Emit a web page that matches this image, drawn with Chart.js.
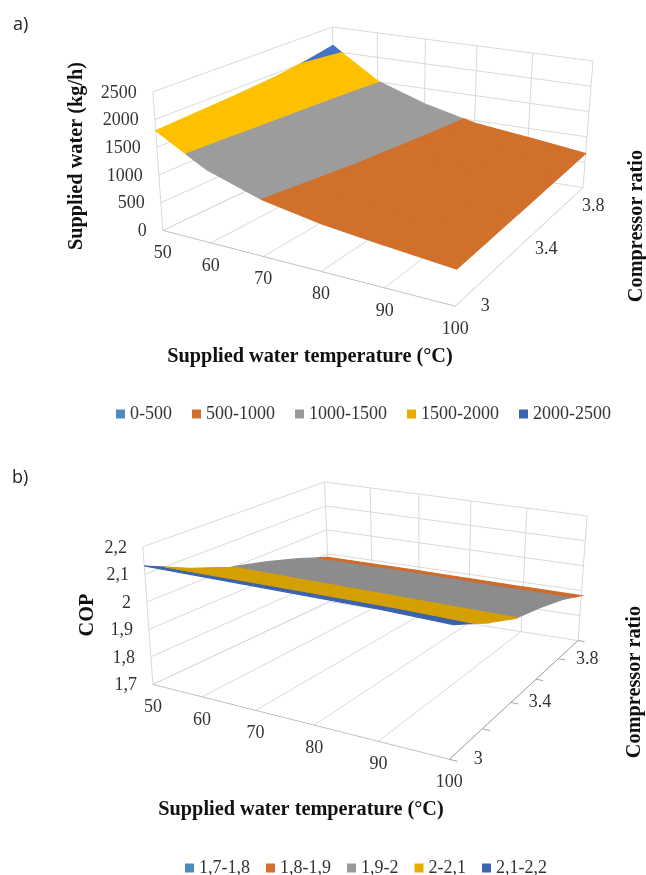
<!DOCTYPE html>
<html><head><meta charset="utf-8">
<script src="https://cdn.jsdelivr.net/npm/chart.js@4"></script>
<style>html,body{margin:0;padding:0;background:#fff;overflow:hidden;height:875px}canvas{position:absolute;left:0}</style>
</head><body>
<canvas id="a" style="top:0"></canvas>
<canvas id="b" style="top:437px"></canvas>
<script>
// ---------- shared categories ----------
const temperatures = [50, 60, 70, 80, 90, 100];
const ratios = [3, 3.2, 3.4, 3.6, 3.8, 4];
const ratioLabels = ['3', '', '3.4', '', '3.8', ''];

// ---------- panel a ----------
const waterTicks = [0, 500, 1000, 1500, 2000, 2500];
const waterTickLabels = ['0', '500', '1000', '1500', '2000', '2500'];
const waterBands = ['0-500', '500-1000', '1000-1500', '1500-2000', '2000-2500'];
const waterAt30 = [1800, 1300, 1000, 830, 720, 620];
const waterAt32 = [1840, 1340, 1035, 855, 740, 630];
const waterAt34 = [1880, 1385, 1075, 880, 760, 640];
const waterAt36 = [1930, 1425, 1110, 900, 775, 650];
const waterAt38 = [2010, 1470, 1150, 925, 800, 660];
const waterAt40 = [2120, 1520, 1190, 950, 820, 670];

// ---------- panel b ----------
const copTicks = [1.7, 1.8, 1.9, 2, 2.1, 2.2];
const copTickLabels = ['1,7', '1,8', '1,9', '2', '2,1', '2,2'];
const copBands = ['1,7-1,8', '1,8-1,9', '1,9-2', '2-2,1', '2,1-2,2'];
const copAt30 = [2.13, 2.135, 2.14, 2.145, 2.15, 2.15];
const copAt32 = [2.06, 2.062, 2.065, 2.068, 2.07, 2.07];
const copAt34 = [2.005, 2.005, 2.005, 2.005, 2.005, 2.005];
const copAt36 = [1.97, 1.97, 1.97, 1.97, 1.97, 1.97];
const copAt38 = [1.93, 1.93, 1.93, 1.93, 1.93, 1.93];
const copAt40 = [1.885, 1.885, 1.885, 1.883, 1.881, 1.88];

const SERIF = '"Liberation Serif"';

function homography(q) {
  const [p0, p1, p2, p3] = q; // (0,0) (1,0) (1,1) (0,1)
  const dx1 = p1[0] - p2[0], dx2 = p3[0] - p2[0], sx = p0[0] - p1[0] + p2[0] - p3[0];
  const dy1 = p1[1] - p2[1], dy2 = p3[1] - p2[1], sy = p0[1] - p1[1] + p2[1] - p3[1];
  const det = dx1 * dy2 - dx2 * dy1;
  const g = (sx * dy2 - dx2 * sy) / det, h = (dx1 * sy - sx * dy1) / det;
  const a = p1[0] - p0[0] + g * p1[0], b = p3[0] - p0[0] + h * p3[0], c = p0[0];
  const d = p1[1] - p0[1] + g * p1[1], e = p3[1] - p0[1] + h * p3[1], f = p0[1];
  return (u, v) => { const w = g * u + h * v + 1; return [(a * u + b * v + c) / w, (d * u + e * v + f) / w]; };
}

function clipBand(poly, lo, hi) {
  const clip = (pts, keep, lim) => {
    const out = [];
    pts.forEach((p, i) => {
      const q = pts[(i + 1) % pts.length];
      const pk = keep(p[2]), qk = keep(q[2]);
      if (pk) out.push(p);
      if (pk !== qk) { const t = (lim - p[2]) / (q[2] - p[2]); out.push([p[0] + t * (q[0] - p[0]), p[1] + t * (q[1] - p[1]), lim]); }
    });
    return out;
  };
  return clip(clip(poly, z => z >= lo, lo), z => z <= hi, hi);
}

function panel(id, height, cfg) {
  const us = cfg.us, vs = cfg.vs, zs = cfg.zs;
  const fu = x => (x - us[0]) / (us[us.length - 1] - us[0]);
  const fv = x => (x - vs[0]) / (vs[vs.length - 1] - vs[0]);
  const fz = x => (x - zs[0]) / (zs[zs.length - 1] - zs[0]);
  const floorH = homography(cfg.floor), topH = homography(cfg.top);
  const project = (u, v, z) => {
    const a = floorH(u, v), b = topH(u, v);
    return { x: a[0] + z * (b[0] - a[0]), y: a[1] + z * (b[1] - a[1]) };
  };
  const gap = { x: NaN, y: NaN };
  const gridLines = [];
  const seg = (a, b) => { gridLines.push(a, b, gap); };
  zs.forEach(z => {
    seg(project(0, 0, fz(z)), project(0, 1, fz(z)));
    seg(project(0, 1, fz(z)), project(1, 1, fz(z)));
  });
  us.forEach(u => {
    seg(project(fu(u), 0, 0), project(fu(u), 1, 0));
    seg(project(fu(u), 1, 0), project(fu(u), 1, 1));
  });
  seg(project(0, 0, 0), project(0, 0, 1));
  const edgeLines = [];
  edgeLines.push(project(0, 0, 0), project(1, 0, 0), gap);
  const sideLines = [project(1, 0, 0), project(1, 1, 0), gap];
  if (cfg.ticks) vs.forEach(v => { sideLines.push(project(1, fv(v), 0), project(1.022, fv(v), 0), gap); });

  const bandSets = cfg.bands.map((label, bi) => {
    const lo = zs[bi], hi = zs[bi + 1], data = [];
    for (let j = 0; j < vs.length - 1; j++) for (let i = 0; i < us.length - 1; i++) {
      const c = [[i, j], [i + 1, j], [i + 1, j + 1], [i, j + 1]]
        .map(([a, b]) => [fu(us[a]), fv(vs[b]), fz(cfg.rows[b][a])]);
      const poly = clipBand(c, fz(lo), fz(hi));
      if (poly.length > 2) {
        poly.forEach(p => data.push(project(p[0], p[1], p[2])));
        data.push(project(poly[0][0], poly[0][1], poly[0][2]), gap);
      }
    }
    return { label, data, showLine: true, fill: 'shape', pointRadius: 0, borderWidth: 1.1,
      borderColor: cfg.colors[bi], backgroundColor: cfg.colors[bi], order: 1 };
  });
  const lineSet = (data, color, order) => ({ data, showLine: true, pointRadius: 0, borderWidth: 1, borderColor: color, fill: false, order });
  const datasets = [...bandSets, lineSet(gridLines, '#D9D9D9', 5), lineSet(edgeLines, '#BFBFBF', 4), lineSet(sideLines, cfg.sideColor, 4)];

  const texts = {
    id: 'texts',
    afterDraw(chart) {
      const ctx = chart.ctx, sx = chart.scales.x, sy = chart.scales.y;
      const put = (t, x, y, font, color, align, rot) => {
        ctx.save(); ctx.translate(x, y); if (rot) ctx.rotate(rot);
        ctx.font = font; ctx.fillStyle = color; ctx.textAlign = align || 'center'; ctx.textBaseline = 'middle';
        ctx.fillText(t, 0, 0); ctx.restore();
      };
      const P = p => [sx.getPixelForValue(p.x), sy.getPixelForValue(p.y)];
      const tf = '18px ' + SERIF, tb = 'bold 20.3px ' + SERIF;
      zs.forEach((z, i) => { const [x, y] = P(project(0, 0, fz(z))); put(cfg.zLabels[i], x - 16, y + 1, tf, '#333', 'right'); });
      us.forEach(u => { const [x, y] = P(project(fu(u), 0, 0)); put(String(u), x, y + 23, tf, '#333'); });
      vs.forEach((v, i) => { if (cfg.vLabels[i]) { const [x, y] = P(project(1, fv(v), 0)); put(cfg.vLabels[i], x + cfg.vOff[0], y + cfg.vOff[1], tf, '#333'); } });
      cfg.titles.forEach(t => put(t.text, t.x, t.y, tb, '#111', 'center', t.rot));
      put(cfg.tag, cfg.tagPos[0], cfg.tagPos[1], '18px "Open Sans"', '#222', 'left');
    }
  };

  const el = document.getElementById(id);
  el.width = 646; el.height = height; el.style.width = '646px'; el.style.height = height + 'px';
  const chart = new Chart(el, {
    type: 'scatter',
    data: { datasets },
    plugins: [texts],
    options: {
      responsive: false, animation: false, events: [],
      layout: { padding: { left: cfg.padLeft, bottom: cfg.padBottom } },
      scales: {
        x: { type: 'linear', display: false, min: cfg.padLeft, max: 646 },
        y: { type: 'linear', display: false, reverse: true, min: 0, max: height }
      },
      plugins: {
        tooltip: { enabled: false },
        legend: {
          position: 'bottom',
          labels: {
            font: { family: SERIF, size: 18 }, color: '#333', usePointStyle: true, pointStyle: 'rect',
            boxWidth: 1, boxHeight: 9, padding: cfg.legendPad,
            filter: it => !!it.text,
            generateLabels(c) {
              return Chart.defaults.plugins.legend.labels.generateLabels(c).map((it, i) => ({
                ...it, fillStyle: cfg.legendColors[i], strokeStyle: cfg.legendColors[i], lineWidth: 0, pointStyle: 'rect' }));
            }
          }
        }
      }
    }
  });
  chart.options.scales.y.max = chart.chartArea.bottom;
  chart.update('none');
  return chart;
}

panel('a', 437, {
  us: temperatures, vs: ratios, zs: waterTicks,
  rows: [waterAt30, waterAt32, waterAt34, waterAt36, waterAt38, waterAt40],
  bands: waterBands, zLabels: waterTickLabels, vLabels: ratioLabels,
  floor: [[163, 230], [456, 306], [584, 187], [336, 148]],
  top: [[153, 91], [461.5, 156], [594, 60], [333, 26]],
  colors: ['#4A86BD', '#D0702A', '#9C9C9C', '#FFC000', '#4472C4'],
  legendColors: ['#4F8ABF', '#D2702D', '#999999', '#E6AC00', '#3D64AF'],
  sideColor: '#D9D9D9', ticks: false, vOff: [30, 0],
  padLeft: 85, padBottom: 4, legendPad: 24,
  tag: 'a)', tagPos: [13, 25],
  titles: [
    { text: 'Supplied water (kg/h)', x: 77, y: 156, rot: -Math.PI / 2 },
    { text: 'Compressor ratio', x: 637, y: 226, rot: -Math.PI / 2 },
    { text: 'Supplied water temperature (°C)', x: 310, y: 357 }
  ]
});
panel('b', 450, {
  us: temperatures, vs: ratios, zs: copTicks,
  rows: [copAt30, copAt32, copAt34, copAt36, copAt38, copAt40],
  bands: copBands, zLabels: copTickLabels, vLabels: ratioLabels,
  floor: [[153, 247], [450, 322], [579, 203], [330, 164]],
  top: [[143, 109], [454.5, 172], [588, 78], [325, 44]],
  colors: ['#4A86BD', '#CE6B2C', '#8C8C8C', '#D49F00', '#3A62AD'],
  legendColors: ['#4F8ABF', '#D2702D', '#999999', '#E6AC00', '#3D64AF'],
  sideColor: '#A6A6A6', ticks: true, vOff: [29, 0],
  padLeft: 90, padBottom: 0, legendPad: 20,
  tag: 'b)', tagPos: [12, 41],
  titles: [
    { text: 'COP', x: 88, y: 178, rot: -Math.PI / 2 },
    { text: 'Compressor ratio', x: 635, y: 245, rot: -Math.PI / 2 },
    { text: 'Supplied water temperature (°C)', x: 301, y: 373 }
  ]
});
</script>
</body></html>
